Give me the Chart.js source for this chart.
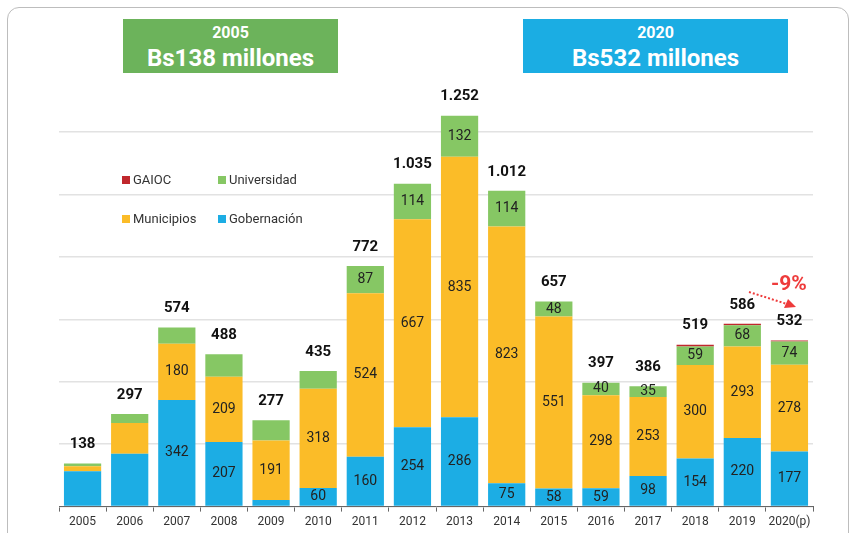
<!DOCTYPE html>
<html lang="es">
<head>
  <meta charset="UTF-8">
  <title>Transferencias por año</title>
  <script src="https://cdn.jsdelivr.net/npm/chart.js"></script>
  <style>
    body { margin: 0; background: #fff; font-family: Roboto, "Noto Sans", sans-serif; }
    #wrap { position: relative; width: 851px; height: 533px; overflow: hidden; }
    #card { position: absolute; left: 7px; top: 7px; width: 842px; height: 560px;
            border: 1px solid #bdbdbd; border-radius: 12px; box-sizing: border-box; }
    .box { position: absolute; top: 19px; height: 54px; color: #fff; text-align: center; font-weight: bold; }
    .box .y { font-size: 16px; margin-top: 5px; line-height: 18px; }
    .box .m { font-size: 24px; margin-top: 2px; line-height: 28px; }
    #chartBox { position: absolute; left: 0; top: 0; width: 851px; height: 533px; }
  </style>
</head>
<body>
<div id="wrap">
  <div id="card"></div>
  <div class="box" style="left:123px;width:215px;background:#6cb35b;">
    <div class="y">2005</div><div class="m">Bs138 millones</div>
  </div>
  <div class="box" style="left:523px;width:265px;background:#1badE3;">
    <div class="y">2020</div><div class="m">Bs532 millones</div>
  </div>
  <div id="chartBox"><canvas id="grafico"></canvas></div>
</div>

<script>
  // datos (millones de Bs)
  const anios = ['2005','2006','2007','2008','2009','2010','2011','2012','2013','2014','2015','2016','2017','2018','2019','2020(p)'];
  const gobernacion = [113, 169, 342, 207, 21, 60, 160, 254, 286, 75, 58, 59, 98, 154, 220, 177];
  const municipios  = [16, 99, 180, 209, 191, 318, 524, 667, 835, 823, 551, 298, 253, 300, 293, 278];
  const universidad = [9, 29, 52, 72, 65, 57, 87, 114, 132, 114, 48, 40, 35, 59, 68, 74];
  const gaioc       = [0, 0, 0, 0, 0, 0, 0, 0, 0, 0, 0, 0, 0, 6, 5, 3];
  const totales     = [138, 297, 574, 488, 277, 435, 772, 1035, 1252, 1012, 657, 397, 386, 519, 586, 532];

  // desde que año se muestra la etiqueta de cada serie
  const etiquetaDesde = { 'Gobernación': 2, 'Municipios': 2, 'Universidad': 6, 'GAIOC': 99 };

  const etiquetas = {
    id: 'etiquetas',
    afterDatasetsDraw(chart) {
      const ctx = chart.ctx;
      ctx.save();
      ctx.textAlign = 'center';
      ctx.textBaseline = 'middle';
      ctx.fillStyle = '#222';
      ctx.font = '14px Roboto';
      chart.data.datasets.forEach((ds, i) => {
        const meta = chart.getDatasetMeta(i);
        meta.data.forEach((bar, j) => {
          const v = ds.data[j];
          if (j < etiquetaDesde[ds.label] || v < 30) return;
          ctx.fillText(v, bar.x, (bar.y + bar.base) / 2);
        });
      });
      // totales
      ctx.font = 'bold 15px Roboto';
      ctx.fillStyle = '#111';
      const y = chart.scales.y;
      totales.forEach((t, j) => {
        const x = chart.scales.x.getPixelForValue(j);
        const sum = gobernacion[j] + municipios[j] + universidad[j] + gaioc[j];
        ctx.fillText(t.toLocaleString('de-DE'), x, y.getPixelForValue(sum) - 19);
      });
      // leyenda
      ctx.font = '13px Roboto';
      ctx.textAlign = 'left';
      const pos = { 'GAIOC': [122, 180], 'Universidad': [218, 180], 'Municipios': [122, 219], 'Gobernación': [218, 219] };
      chart.data.datasets.forEach(ds => {
        const [lx, ly] = pos[ds.label];
        ctx.fillStyle = ds.backgroundColor;
        ctx.fillRect(lx, ly - 4, 8, 8);
        ctx.fillStyle = '#333';
        ctx.fillText(ds.label, lx + 11, ly + 1);
      });
      // -9%
      ctx.fillStyle = '#ee3b3b';
      ctx.font = 'bold 21px Roboto';
      ctx.fillText('-9%', 771, 285);
      ctx.strokeStyle = '#ee3b3b';
      ctx.lineWidth = 2;
      ctx.setLineDash([2, 2]);
      ctx.beginPath();
      ctx.moveTo(749, 292);
      ctx.lineTo(787, 304);
      ctx.stroke();
      ctx.setLineDash([]);
      ctx.beginPath();
      ctx.moveTo(796, 307);
      ctx.lineTo(784, 308);
      ctx.lineTo(788, 299);
      ctx.closePath();
      ctx.fill();
      ctx.restore();
    }
  };

  new Chart(document.getElementById('grafico'), {
    type: 'bar',
    data: {
      labels: anios,
      datasets: [
        { label: 'Gobernación', data: gobernacion, backgroundColor: '#1cade4' },
        { label: 'Municipios', data: municipios, backgroundColor: '#fbbc28' },
        { label: 'Universidad', data: universidad, backgroundColor: '#86c764' },
        { label: 'GAIOC', data: gaioc, backgroundColor: '#c0272d' }
      ]
    },
    options: {
      responsive: true,
      maintainAspectRatio: false,
      animation: false,
      datasets: { bar: { barPercentage: 0.79, categoryPercentage: 1 } },
      layout: { padding: { top: 101, left: 59, right: 38, bottom: 1 } },
      plugins: { legend: { display: false }, tooltip: { enabled: false } },
      scales: {
        x: {
          stacked: true,
          grid: { offset: true, drawOnChartArea: false, drawTicks: true, tickLength: 5, color: '#666' },
          border: { display: true, color: '#666' },
          ticks: { color: '#333', font: { family: 'Roboto', size: 12 }, padding: 3, maxRotation: 0 }
        },
        y: {
          stacked: true,
          min: 0,
          max: 1300,
          afterBuildTicks: s => { s.ticks = [0,200,400,600,800,1000,1200].map(v => ({ value: v })); },
          ticks: { display: false },
          grid: { drawTicks: false, color: '#e2e2e2', lineWidth: 1.5 },
          border: { display: false }
        }
      }
    },
    plugins: [etiquetas]
  });
</script>
</body>
</html>
